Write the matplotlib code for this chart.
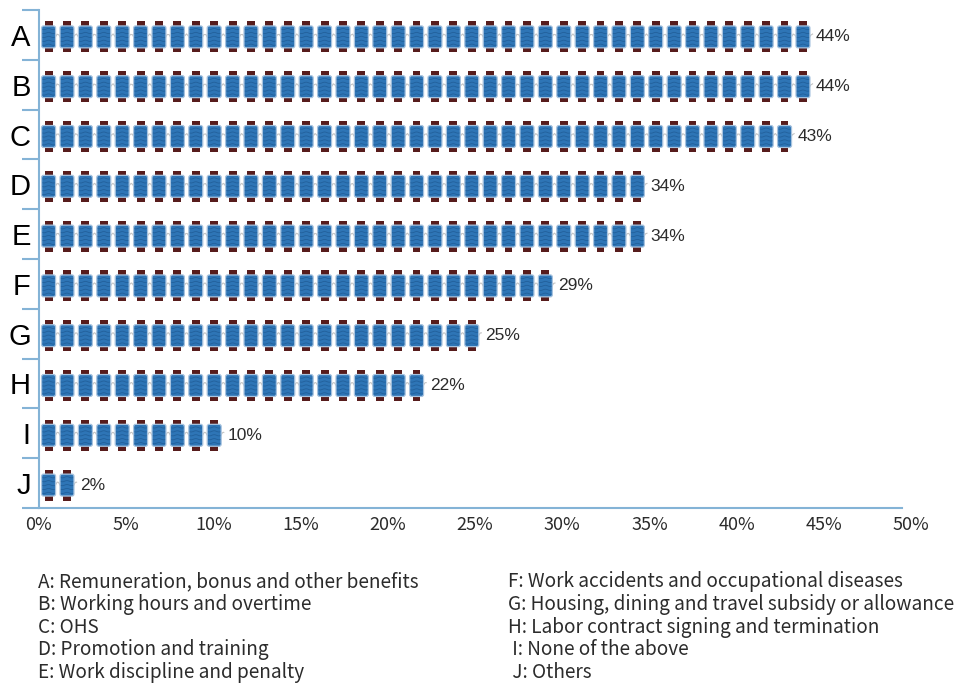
import math
import numpy as np
import matplotlib
matplotlib.use("Agg")
import matplotlib.pyplot as plt
from matplotlib.patches import Rectangle, FancyBboxPatch

# Survey categories and the share of respondents (%)
categories = ["A", "B", "C", "D", "E", "F", "G", "H", "I", "J"]
values = [44, 44, 43, 34, 34, 29, 25, 22, 10, 2]
value_labels = ["44%", "44%", "43%", "34%", "34%", "29%", "25%", "22%", "10%", "2%"]
x_ticks = [0, 5, 10, 15, 20, 25, 30, 35, 40, 45, 50]
x_tick_labels = ["0%", "5%", "10%", "15%", "20%", "25%", "30%", "35%", "40%", "45%", "50%"]
legend_left = [
    "A: Remuneration, bonus and other benefits",
    "B: Working hours and overtime",
    "C: OHS",
    "D: Promotion and training",
    "E: Work discipline and penalty",
]
legend_right = [
    "F: Work accidents and occupational diseases",
    "G: Housing, dining and travel subsidy or allowance",
    "H: Labor contract signing and termination",
    " I: None of the above",
    " J: Others",
]

# Spool pictogram geometry (x in %, y in row units)
SPOOL_STEP = 1.055
SPOOL_START = 0.15
BODY_W = 0.80
CAP_W = 0.45
BODY_H = 0.44
CAP_H = 0.62
Y_SHIFT = 0.04

BODY_COLOR = "#2e75b6"
BODY_EDGE = "#a7c3df"
STRIPE_COLOR = "#22609b"
CAP_COLOR = "#571c1c"
THREAD_COLOR = "#c4c4c4"
AXIS_COLOR = "#84b3d6"
TEXT_COLOR = "#2b2b2b"

fig = plt.figure(figsize=(9.6, 6.85), dpi=100)
ax = fig.add_axes([39 / 960, 1 - 508 / 685, (911 - 39) / 960, 498 / 685])

n_rows = len(categories)
ax.set_xlim(0, 50)
ax.set_ylim(n_rows - 0.5, -0.5)

# aspect correction so rounded corners look round in pixels
px_per_x = 872 / 50
px_per_y = 498 / n_rows
mut_aspect = px_per_x / px_per_y


def draw_spool(x0, yc):
    xc = x0 + BODY_W / 2
    # flanges top and bottom
    ax.add_patch(Rectangle((xc - CAP_W / 2, yc - CAP_H / 2), CAP_W, CAP_H,
                           facecolor=CAP_COLOR, edgecolor="none", zorder=2))
    # wound body
    ax.add_patch(FancyBboxPatch((x0, yc - BODY_H / 2), BODY_W, BODY_H,
                                boxstyle="round,pad=0,rounding_size=0.12",
                                mutation_aspect=mut_aspect,
                                facecolor=BODY_COLOR, edgecolor=BODY_EDGE,
                                linewidth=0.9, zorder=3))
    # thread stripes
    xs = np.linspace(x0 + 0.05, x0 + BODY_W - 0.05, 20)
    for k in range(5):
        yy = yc - BODY_H / 2 + (k + 0.8) * BODY_H / 5.6
        ax.plot(xs, yy + 0.012 * np.sin((xs - x0) / BODY_W * 2 * np.pi * 1.5),
                color=STRIPE_COLOR, lw=0.6, zorder=4, solid_capstyle="butt")


for i, (v, lab) in enumerate(zip(values, value_labels)):
    yc = i + Y_SHIFT
    n = math.ceil(v / SPOOL_STEP)
    end = SPOOL_START + n * SPOOL_STEP - (SPOOL_STEP - BODY_W)
    # loose thread running between spools
    tx = np.linspace(SPOOL_START, end + 0.15, 400)
    ty = yc + 0.06 * np.sin((tx - SPOOL_START) / SPOOL_STEP * 2 * np.pi * 2)
    ax.plot(tx, ty, color=THREAD_COLOR, lw=0.8, zorder=1)
    for k in range(n):
        draw_spool(SPOOL_START + k * SPOOL_STEP, yc)
    ax.text(end + 0.35, yc, lab, ha="left", va="center",
            fontsize=12.5, family=["Liberation Sans", "DejaVu Sans"],
            color=TEXT_COLOR)

# axes styling
for side in ("top", "right"):
    ax.spines[side].set_visible(False)
ax.spines["left"].set_color(AXIS_COLOR)
ax.spines["bottom"].set_color(AXIS_COLOR)
ax.spines["left"].set_linewidth(1.5)
ax.spines["bottom"].set_linewidth(1.5)
ax.spines["bottom"].set_bounds(0, 49.5)

ax.set_xticks(x_ticks)
ax.set_xticklabels(x_tick_labels, fontsize=13,
                   family=["Noto Sans CJK SC", "DejaVu Sans"], color=TEXT_COLOR)
ax.tick_params(axis="x", length=0, pad=6)

ax.set_yticks(range(n_rows))
ax.set_yticklabels(categories, fontsize=21,
                   family=["Liberation Sans", "DejaVu Sans"], color="black")
ax.set_yticks(np.arange(-0.5, n_rows, 1.0), minor=True)
ax.tick_params(axis="y", which="major", length=0, pad=6)
ax.tick_params(axis="y", which="minor", length=12, width=1.5, color=AXIS_COLOR)

# category key below the chart
for j, t in enumerate(legend_left):
    fig.text(38 / 960, 1 - (582 + j * 22.6) / 685, t, ha="left", va="center",
             fontsize=13.7, family=["Noto Sans CJK SC", "DejaVu Sans"],
             color=TEXT_COLOR)
for j, t in enumerate(legend_right):
    fig.text(508 / 960, 1 - (582 + j * 22.6) / 685, t, ha="left", va="center",
             fontsize=13.7, family=["Noto Sans CJK SC", "DejaVu Sans"],
             color=TEXT_COLOR)

fig.savefig("out.png", dpi=100, facecolor="white")
